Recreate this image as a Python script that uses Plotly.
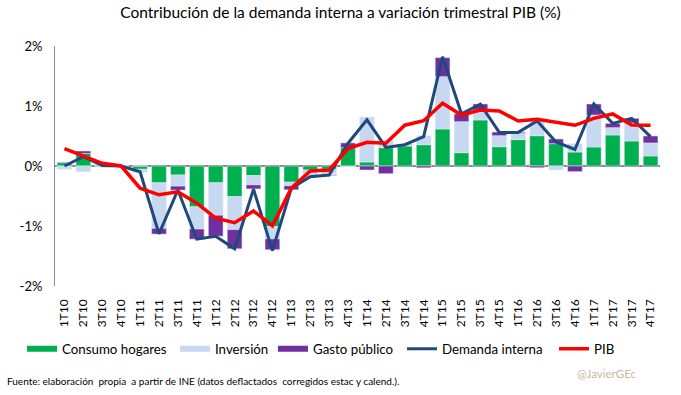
import plotly.graph_objects as go

quarters = ["1T10","2T10","3T10","4T10","1T11","2T11","3T11","4T11",
            "1T12","2T12","3T12","4T12","1T13","2T13","3T13","4T13",
            "1T14","2T14","3T14","4T14","1T15","2T15","3T15","4T15",
            "1T16","2T16","3T16","4T16","1T17","2T17","3T17","4T17"]

consumo = [0.055, 0.21, 0.02, 0.0, -0.055, -0.28, -0.15, -0.68,
           -0.28, -0.51, -0.16, -1.01, -0.27, -0.067, -0.055, 0.305,
           0.067, 0.305, 0.333, 0.355, 0.617, 0.222, 0.767, 0.322,
           0.44, 0.505, 0.372, 0.233, 0.317, 0.517, 0.417, 0.167]

inversion = [-0.055, -0.095, -0.02, 0.0, -0.05, -0.76, -0.185, -0.37,
             -0.54, -0.55, -0.155, -0.205, -0.06, -0.10, -0.095, -0.01,
             0.75, 0.13, 0.02, 0.15, 0.872, 0.517, 0.167, 0.183,
             0.105, 0.245, -0.067, 0.139, 0.533, 0.122, 0.30, 0.217]

gasto = [0.01, 0.04, 0.0, 0.0, 0.0, -0.095, -0.067, -0.17,
         -0.35, -0.32, -0.067, -0.18, -0.067, -0.01, -0.01, 0.08,
         -0.067, -0.128, 0.01, -0.03, 0.317, 0.128, 0.10, 0.061,
         0.017, -0.028, 0.078, -0.094, 0.183, 0.072, 0.078, 0.117]

demanda = [0.0, 0.155, 0.01, 0.0, -0.095, -1.13, -0.40, -1.22,
           -1.17, -1.38, -0.385, -1.41, -0.37, -0.18, -0.15, 0.38,
           0.77, 0.31, 0.355, 0.49, 1.82, 0.87, 1.03, 0.56,
           0.56, 0.75, 0.40, 0.275, 1.033, 0.71, 0.795, 0.49]

pib = [0.29, 0.17, 0.045, 0.0, -0.37, -0.48, -0.43, -0.62,
       -0.87, -0.945, -0.75, -0.995, -0.37, -0.083, -0.067, 0.29,
       0.395, 0.38, 0.68, 0.755, 1.045, 0.85, 0.933, 0.917,
       0.75, 0.778, 0.722, 0.678, 0.794, 0.867, 0.683, 0.678]

y_ticks = [-2, -1, 0, 1, 2]
y_tick_labels = ["-2%", "-1%", "0%", "1%", "2%"]

FONT = "Lato"
C_CONS, C_INV, C_GAS = "#00b050", "#c6d9f1", "#7030a0"
C_DEM, C_PIB = "#1f497d", "#ff0000"

fig = go.Figure()
fig.add_trace(go.Bar(x=quarters, y=consumo, name="Consumo hogares", marker_color=C_CONS, showlegend=False))
fig.add_trace(go.Bar(x=quarters, y=inversion, name="Inversión", marker_color=C_INV, showlegend=False))
fig.add_trace(go.Bar(x=quarters, y=gasto, name="Gasto público", marker_color=C_GAS, showlegend=False))
fig.add_trace(go.Scatter(x=quarters, y=demanda, name="Demanda interna", mode="lines",
                         line=dict(color=C_DEM, width=3), legend="legend4"))
fig.add_trace(go.Scatter(x=quarters, y=pib, name="PIB", mode="lines",
                         line=dict(color=C_PIB, width=3.5), legend="legend5"))

# legend-only entries drawn as wide rectangles, like the original
for nm, col, lg in [("Consumo hogares", C_CONS, "legend"),
                    ("Inversión", C_INV, "legend2"),
                    ("Gasto público", C_GAS, "legend3")]:
    fig.add_trace(go.Scatter(x=[None], y=[None], name=nm, mode="lines",
                             line=dict(color=col, width=6), legend=lg, hoverinfo="skip"))

leg_common = dict(orientation="h", xanchor="left", y=-0.2625, yanchor="middle",
                  font=dict(size=13.3, family=FONT, color="#000000"), itemwidth=30,
                  bgcolor="rgba(0,0,0,0)")

fig.update_layout(
    width=681, height=395,
    barmode="relative", bargap=0.22,
    plot_bgcolor="white", paper_bgcolor="white",
    margin=dict(l=55, r=21, t=46, b=109),
    font=dict(family=FONT, color="#000000"),
    title=dict(text="Contribución de la demanda interna a variación trimestral PIB (%)",
               x=0.5, xref="container", xanchor="center",
               y=1 - 12.5/395, yref="container", yanchor="middle",
               font=dict(size=15.5, family=FONT, color="#000000")),
    legend=dict(x=-0.0545, **leg_common),
    legend2=dict(x=0.1983, **leg_common),
    legend3=dict(x=0.3603, **leg_common),
    legend4=dict(x=0.5736, **leg_common),
    legend5=dict(x=0.8248, **leg_common),
    xaxis=dict(tickangle=-90, tickfont=dict(size=12, family=FONT), showline=False,
               showgrid=False, ticks="", ticklabelstandoff=10),
    yaxis=dict(range=[-2, 2], tickvals=y_ticks, ticktext=y_tick_labels,
               tickfont=dict(size=13, family=FONT), showgrid=False,
               showline=True, linecolor="#8c8c8c", linewidth=1,
               zeroline=True, zerolinecolor="#8c8c8c", zerolinewidth=1.5,
               ticks="", ticklabelstandoff=9),
    annotations=[
        dict(text="Fuente: elaboración  propia  a partir de INE (datos deflactados  corregidos estac y calend.).",
             xref="paper", yref="paper", x=-0.083, y=-0.396, xanchor="left", yanchor="middle",
             showarrow=False, font=dict(size=10, family=FONT, color="#000000")),
        dict(text="@JavierGEc", xref="paper", yref="paper", x=0.912, y=-0.3625,
             xanchor="center", yanchor="middle", showarrow=False,
             font=dict(size=11.5, family=FONT, color="#c8b99a")),
    ],
)

fig.write_html("out.html", config={"displayModeBar": False},
               post_script="document.body.style.margin='0px';")
